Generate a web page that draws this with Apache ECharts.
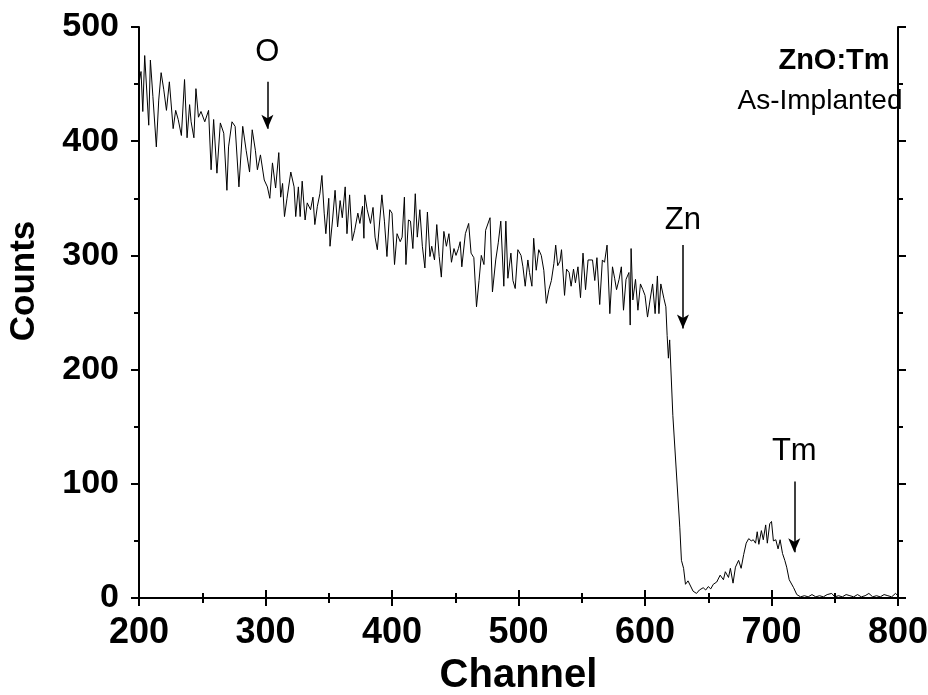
<!DOCTYPE html>
<html>
<head>
<meta charset="utf-8">
<script src="https://cdn.jsdelivr.net/npm/echarts@6/dist/echarts.min.js"></script>
<style>
  html, body { margin: 0; padding: 0; background: #fff; }
  #chart { width: 928px; height: 695px; }
</style>
</head>
<body>
<div id="chart"></div>
<script>
// RBS spectrum of Tm-implanted ZnO: channel vs. counts
const channels = [
  200, 201.6, 203, 204.5, 207.7, 209, 211, 213.7, 215.6, 217.5, 219.6, 221.7, 224, 227, 229, 231, 233.5, 236, 238, 240,
  241.2, 243.4, 245, 247, 249, 252, 255, 257, 259, 261.6, 264.3, 267, 269.5, 270.8, 273.5, 276, 279, 282, 284.7, 287.4,
  289.5, 292, 293.6, 296, 299, 301.5, 303.4, 305.5, 308, 310.5, 312, 313.5, 315, 317, 320, 322.6, 323.9, 326, 327.4, 329,
  331.3, 333, 335.6, 337.5, 339, 341, 343, 344.6, 346.4, 347.7, 350, 351, 353, 355, 357, 359, 360.7, 363, 364.4, 366.5,
  368.6, 370.5, 373, 374.6, 376.7, 377.8, 378.5, 380.4, 383, 385, 386.6, 388.4, 392, 394, 396, 398.2, 400, 402, 404, 406.5,
  408, 409.8, 411, 413, 414.6, 416.5, 418.4, 420, 422, 424, 426, 428, 430, 431.4, 433.6, 435.4, 437.3, 439, 441, 443,
  445, 447, 449, 450.6, 452.5, 453.9, 455.2, 458, 460.6, 462.5, 464.7, 466.8, 468.8, 470.6, 472.7, 474, 477.5, 479.4, 482, 484,
  486, 488.4, 490, 491.6, 494, 495.6, 497.4, 499.5, 502, 503.5, 505.3, 507.4, 508.7, 510.6, 512, 514, 516, 518, 520, 522,
  524, 526, 528, 529.4, 531, 532.8, 534, 536.4, 538, 540, 541.6, 543.5, 545, 547, 549, 551, 553, 555, 558.5, 560.3,
  562, 564.2, 566.3, 568, 570, 572.2, 574.3, 576, 577.5, 579.5, 581.3, 583, 585, 587.3, 588.3, 589, 590.4, 592.5, 594.4, 596.4,
  598.3, 600, 602, 604, 606, 608, 609.8, 611, 612.5, 615, 616.5, 617.5, 618.5, 619.5, 622, 627.5, 628.8, 630.5, 632, 634,
  635.5, 638, 640.7, 643, 646, 648, 650, 652, 654, 656.7, 659.4, 662, 663.5, 666, 667.5, 669.6, 671.5, 674, 676, 678,
  680, 682, 684, 685.6, 687.4, 688.7, 690, 692, 693.5, 695.4, 696.7, 698.6, 700, 701.5, 703.4, 705.2, 706.8, 708.7, 710.5, 712,
  714, 715.5, 717.5, 720, 723, 726, 729, 732, 735, 738, 741, 744, 747.6, 750, 753, 756, 759, 762, 765, 768,
  771, 774, 777, 780, 783, 786, 789, 792, 795, 798, 800
];
const counts = [
  451, 461, 426, 475, 414, 471, 439, 395, 436, 460, 445, 427, 452, 411, 427, 419, 405, 454, 403, 432,
  417, 403, 446, 421, 426, 417, 427, 375, 419, 372, 416, 407, 357, 395, 417, 413, 360, 413, 392, 373,
  410, 392, 375, 388, 366, 360, 350, 381, 359, 390, 351, 363, 334, 350, 373, 360, 334, 360, 334, 365,
  331, 346, 340, 351, 327, 343, 354, 370, 337, 319, 350, 308, 331, 357, 325, 348, 333, 360, 319, 353,
  313, 322, 337, 328, 343, 315, 353, 340, 328, 342, 316, 305, 353, 330, 299, 340, 337, 292, 319, 312,
  316, 351, 292, 331, 330, 306, 354, 316, 340, 308, 289, 338, 299, 308, 296, 327, 299, 281, 321, 308,
  319, 294, 306, 300, 306, 312, 290, 319, 328, 302, 298, 255, 278, 300, 292, 322, 333, 268, 296, 311,
  330, 273, 330, 280, 302, 278, 271, 305, 300, 290, 273, 296, 285, 273, 315, 287, 305, 300, 287, 258,
  270, 278, 293, 309, 291, 295, 305, 265, 288, 285, 273, 288, 276, 290, 263, 302, 270, 296, 296, 278,
  298, 257, 296, 294, 309, 249, 290, 280, 270, 279, 290, 252, 279, 285, 239, 306, 261, 279, 252, 275,
  270, 265, 246, 261, 275, 249, 282, 249, 275, 262, 255, 230, 210, 226, 160, 62, 33, 26, 12, 15,
  16, 6, 4, 7, 9, 7, 10, 8, 12, 14, 20, 16, 23, 18, 26, 13, 27, 33, 26, 38,
  48, 52, 50, 51, 48, 58, 47, 59, 51, 64, 48, 65, 67, 50, 51, 43, 51, 39, 33, 27,
  16, 15, 9, 3, 1, 2, 1, 3, 1, 2, 1, 3, 4, 1, 2, 1, 3, 2, 1, 3,
  1, 2, 4, 1, 2, 1, 3, 2, 1, 4, 2
];

// Element edge markers: label text, channel, label height, arrow start / tip counts
const markerNames = ['O', 'Zn', 'Tm'];
const markerChannels = [301.5, 630, 718];
const markerLabelCounts = [478, 331, 128];
const markerArrowTop = [452, 309, 102];
const markerArrowTip = [411, 236, 40];

const xTicks = { min: 200, max: 800, interval: 100 };
const yTicks = { min: 0, max: 500, interval: 100 };

const FONT = '"Liberation Sans", Arial, Helvetica, sans-serif';

const spectrum = channels.map((c, i) => [c, counts[i]]);

const arrowLines = markerNames.map((n, i) => [
  { coord: [markerChannels[i], markerArrowTop[i]] },
  { coord: [markerChannels[i], markerArrowTip[i]] }
]);
const markerLabels = markerNames.map((n, i) => ({
  coord: [markerChannels[i], markerLabelCounts[i]],
  value: n
}));

const axisLine = { show: true, lineStyle: { color: '#000', width: 2 } };
const axisTick = { show: true, length: 8, lineStyle: { color: '#000', width: 2 } };
const minorTick = { show: true, splitNumber: 2, length: 5, lineStyle: { color: '#000', width: 2 } };

const chart = echarts.init(document.getElementById('chart'));
chart.setOption({
  backgroundColor: '#fff',
  animation: false,
  grid: { left: 139, right: 30, top: 27, bottom: 97, containLabel: false, outerBoundsMode: 'none' },
  xAxis: [
    {
      type: 'value', position: 'bottom',
      min: xTicks.min, max: xTicks.max, interval: xTicks.interval,
      axisLine, axisTick, minorTick,
      splitLine: { show: false },
      axisLabel: { fontFamily: FONT, fontWeight: 'bold', fontSize: 36, color: '#000', margin: 17 },
      name: 'Channel', nameLocation: 'middle', nameGap: 55,
      nameTextStyle: { fontFamily: FONT, fontWeight: 'bold', fontSize: 40, color: '#000' }
    },
    {
      type: 'value', position: 'top',
      min: xTicks.min, max: xTicks.max, interval: xTicks.interval,
      axisLine, axisTick, minorTick,
      splitLine: { show: false }, axisLabel: { show: false }
    }
  ],
  yAxis: [
    {
      type: 'value', position: 'left',
      min: yTicks.min, max: yTicks.max, interval: yTicks.interval,
      axisLine, axisTick, minorTick,
      splitLine: { show: false },
      axisLabel: { fontFamily: FONT, fontWeight: 'bold', fontSize: 34, color: '#000', margin: 20 }
    },
    {
      type: 'value', position: 'right',
      min: yTicks.min, max: yTicks.max, interval: yTicks.interval,
      axisLine, axisTick, minorTick,
      splitLine: { show: false }, axisLabel: { show: false }
    }
  ],
  series: [
    {
      type: 'line',
      data: spectrum,
      showSymbol: false,
      symbol: 'none',
      lineStyle: { color: '#000', width: 1 },
      silent: true,
      markLine: {
        silent: true,
        symbol: ['none', 'arrow'],
        symbolSize: [9, 14],
        lineStyle: { color: '#000', width: 1.5, type: 'solid' },
        label: { show: false },
        data: arrowLines
      },
      markPoint: {
        silent: true,
        symbol: 'circle',
        symbolSize: 0,
        label: {
          show: true, position: 'inside', formatter: '{c}',
          fontFamily: FONT, fontSize: 31, color: '#000'
        },
        data: markerLabels
      }
    }
  ],
  graphic: [
    {
      type: 'text', x: 24, y: 281, rotation: Math.PI / 2,
      style: {
        text: 'Counts', fontFamily: FONT, fontWeight: 'bold', fontSize: 35,
        fill: '#000', align: 'center', verticalAlign: 'middle'
      }
    },
    {
      type: 'text', x: 834, y: 61,
      style: {
        text: 'ZnO:Tm', fontFamily: FONT, fontWeight: 'bold', fontSize: 29,
        fill: '#000', align: 'center', verticalAlign: 'middle'
      }
    },
    {
      type: 'text', x: 820, y: 101,
      style: {
        text: 'As-Implanted', fontFamily: FONT, fontSize: 28,
        fill: '#000', align: 'center', verticalAlign: 'middle'
      }
    }
  ]
});
</script>
</body>
</html>
